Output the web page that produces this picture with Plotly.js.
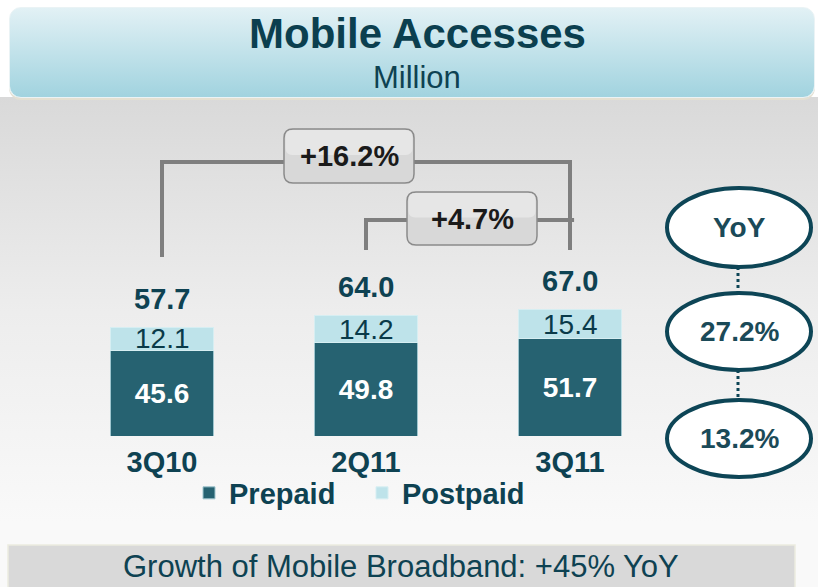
<!DOCTYPE html>
<html>
<head>
<meta charset="utf-8">
<script src="https://cdn.plot.ly/plotly-3.0.1.min.js"></script>
<style>
  html, body { margin: 0; padding: 0; background: #ffffff; }
  #wrap { position: relative; width: 818px; height: 587px; overflow: hidden; }
  /* slide backdrop: gray fade and the rounded header band */
  #bg { position: absolute; left: 0; top: 97px; width: 818px; height: 490px;
        background: linear-gradient(#d9d9d9 0px, #ededed 215px, #f9f9f9 425px); }
  #header { position: absolute; left: 9px; top: 7px; width: 804px; height: 89px;
            border-radius: 12px; border: 1px solid #eaf3f5;
            box-shadow: 0 2px 0 #e4e0d2;
            background: linear-gradient(#e2f1f5, #a1d3df); }
  #chart { position: absolute; left: 0; top: 0; width: 818px; height: 587px; }
</style>
</head>
<body>
<div id="wrap">
  <div id="bg"></div>
  <div id="header"></div>
  <div id="chart"></div>
</div>
<script>
  // data (million accesses)
  const categories = ['3Q10', '2Q11', '3Q11'];
  const prepaid = [45.6, 49.8, 51.7];
  const postpaid = [12.1, 14.2, 15.4];
  const totals = [57.7, 64.0, 67.0];
  const growthLabels = ['+16.2%', '+4.7%'];
  const yoyLabels = ['YoY', '27.2%', '13.2%'];
  const footnote = 'Growth of Mobile Broadband: +45% YoY';

  const W = 818, H = 587;
  const px = x => x / W;
  const py = y => 1 - y / H;

  const FONT = 'Liberation Sans, Arial, sans-serif';
  const TEAL = '#0e4252';
  const PRE = '#266271';
  const POST = '#bee3ea';

  function roundedRect(w, h, r) {
    const a = w / 2, b = h / 2;
    return `M${-a + r},${-b} H${a - r} Q${a},${-b} ${a},${-b + r} V${b - r} ` +
      `Q${a},${b} ${a - r},${b} H${-a + r} Q${-a},${b} ${-a},${b - r} ` +
      `V${-b + r} Q${-a},${-b} ${-a + r},${-b} Z`;
  }

  // free-standing text in page coordinates
  function label(x, y, text, font) {
    return {
      x: px(x), y: py(y), xref: 'paper', yref: 'paper', text: text,
      showarrow: false, xanchor: 'center', yanchor: 'middle', font: font
    };
  }

  const traces = [
    {
      type: 'bar', name: 'Prepaid', x: categories, y: prepaid,
      marker: { color: PRE, line: { color: '#9fc6cf', width: 1 } },
      text: prepaid.map(v => v.toFixed(1)), textposition: 'inside',
      insidetextanchor: 'middle',
      insidetextfont: { family: FONT, size: 28, color: '#ffffff', weight: 'bold' },
      hoverinfo: 'x+y+name', width: 0.505
    },
    {
      type: 'bar', name: 'Postpaid', x: categories, y: postpaid,
      marker: { color: POST, line: { color: '#d6eef2', width: 1 } },
      hoverinfo: 'x+y+name', width: 0.505
    }
  ];

  const annotations = [];
  categories.forEach((c, i) => {
    // totals over the bars
    annotations.push({
      x: c, y: totals[i], xref: 'x', yref: 'y', text: totals[i].toFixed(1),
      showarrow: false, xanchor: 'center', yanchor: 'middle', yshift: 29,
      font: { family: FONT, size: 29, color: TEAL, weight: 'bold' }
    });
    // postpaid values, larger than their segment
    annotations.push({
      x: c, y: prepaid[i] + postpaid[i] / 2, xref: 'x', yref: 'y',
      text: postpaid[i].toFixed(1), showarrow: false,
      xanchor: 'center', yanchor: 'middle',
      font: { family: FONT, size: 28, color: '#0a3a49' }
    });
  });

  // growth boxes
  const boxes = [
    { cx: 349, cy: 156, w: 130, h: 54 },
    { cx: 472, cy: 218.5, w: 130, h: 53 }
  ];
  boxes.forEach((b, i) => {
    annotations.push(label(b.cx, b.cy, growthLabels[i],
      { family: FONT, size: 29, color: '#1a1a1a', weight: 'bold' }));
  });

  // YoY ovals
  const ovals = [[188, 267], [293, 370], [400, 477]];
  ovals.forEach((o, i) => {
    annotations.push(label(739, (o[0] + o[1]) / 2, yoyLabels[i],
      { family: FONT, size: 28, color: '#1b4a58', weight: 'bold' }));
  });

  annotations.push(label(416.5, 77, 'Million', { family: FONT, size: 31, color: TEAL }));
  annotations.push(label(401, 566, footnote, { family: FONT, size: 31, color: TEAL }));

  const gray = { color: '#7f7f7f', width: 4 };
  const shapes = [
    // outer bracket 3Q10 -> 3Q11
    { type: 'line', xref: 'x', yref: 'paper', x0: 0, x1: 0, y0: py(257), y1: py(160), line: gray },
    { type: 'line', xref: 'x', yref: 'paper', x0: 0, x1: 2, y0: py(162), y1: py(162), line: gray },
    { type: 'line', xref: 'x', yref: 'paper', x0: 2, x1: 2, y0: py(160), y1: py(250), line: gray },
    // inner bracket 2Q11 -> 3Q11
    { type: 'line', xref: 'x', yref: 'paper', x0: 1, x1: 1, y0: py(250), y1: py(218), line: gray },
    { type: 'line', xref: 'x', yref: 'paper', x0: 1, x1: 2.02, y0: py(220), y1: py(220), line: gray }
  ];
  boxes.forEach(b => {
    shapes.push({
      type: 'path', xref: 'paper', yref: 'paper', xsizemode: 'pixel', ysizemode: 'pixel',
      xanchor: px(b.cx), yanchor: py(b.cy), path: roundedRect(b.w, b.h, 9),
      fillcolor: '#d8d8d8', line: { color: '#8a8a8a', width: 1.5 }
    });
    // lighter upper half for the bevelled look
    shapes.push({
      type: 'path', xref: 'paper', yref: 'paper', xsizemode: 'pixel', ysizemode: 'pixel',
      xanchor: px(b.cx), yanchor: py(b.cy - b.h / 4), path: roundedRect(b.w - 3, b.h / 2 - 2, 7),
      fillcolor: '#e6e6e6', line: { width: 0 }
    });
  });
  // dotted connectors then ovals
  shapes.push({ type: 'line', xref: 'paper', yref: 'paper', x0: px(738), x1: px(738),
    y0: py(267), y1: py(293), line: { color: '#0d4556', width: 3, dash: 'dot' } });
  shapes.push({ type: 'line', xref: 'paper', yref: 'paper', x0: px(738), x1: px(738),
    y0: py(370), y1: py(400), line: { color: '#0d4556', width: 3, dash: 'dot' } });
  ovals.forEach(o => {
    shapes.push({ type: 'circle', xref: 'paper', yref: 'paper',
      x0: px(667), x1: px(811), y0: py(o[1]), y1: py(o[0]),
      fillcolor: '#ffffff', line: { color: '#0d4556', width: 4 } });
  });
  // footer band
  shapes.push({ type: 'rect', xref: 'paper', yref: 'paper', layer: 'below',
    x0: px(8), x1: px(795), y0: py(545), y1: py(590),
    fillcolor: '#d9d9d9', line: { color: '#ecebe0', width: 1.5 } });

  const layout = {
    width: W, height: H,
    margin: { l: 0, r: 0, t: 0, b: 0 },
    paper_bgcolor: 'rgba(0,0,0,0)', plot_bgcolor: 'rgba(0,0,0,0)',
    barmode: 'stack',
    title: {
      text: 'Mobile Accesses', x: px(417.5), xanchor: 'center', xref: 'paper',
      y: py(33), yanchor: 'middle', yref: 'paper',
      font: { family: FONT, size: 42, color: '#0b3f4f', weight: 'bold' }
    },
    xaxis: {
      type: 'category', domain: [px(60), px(672)], range: [-0.5, 2.5],
      showgrid: false, zeroline: false, showline: false, ticks: '',
      tickfont: { family: FONT, size: 29, color: TEAL, weight: 'bold' },
      ticklabelstandoff: 6
    },
    yaxis: {
      range: [0, 100], domain: [py(436), py(248)], visible: false
    },
    showlegend: true,
    legend: {
      orientation: 'h', x: px(362), xanchor: 'center', y: py(493), yanchor: 'middle',
      entrywidth: 128,
      font: { family: FONT, size: 29, color: TEAL, weight: 'bold' },
      bgcolor: 'rgba(0,0,0,0)', traceorder: 'normal', itemclick: false
    },
    annotations: annotations,
    shapes: shapes
  };

  Plotly.newPlot('chart', traces, layout, { displayModeBar: false, responsive: false });
</script>
</body>
</html>
